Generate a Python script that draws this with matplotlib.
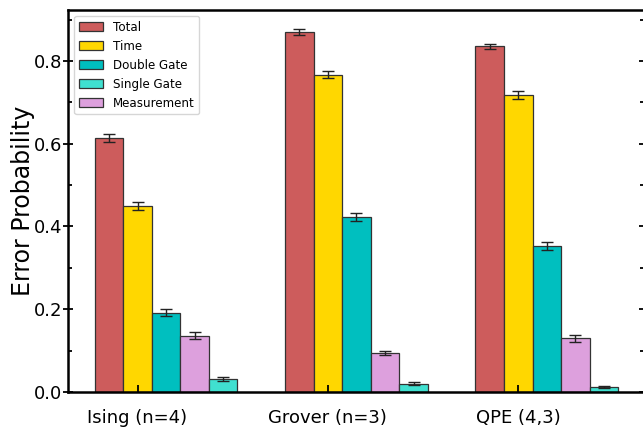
import matplotlib
matplotlib.use('Agg')

import matplotlib.pyplot as plt
from matplotlib.ticker import MultipleLocator
import numpy as np

groups = ["Ising (n=4)", "Grover (n=3)", "QPE (4,3)"]

# values per group, bar order as drawn
total = [0.613, 0.870, 0.835]
total_err = [0.010, 0.007, 0.006]
time_ = [0.450, 0.767, 0.717]
time_err = [0.010, 0.009, 0.010]
double_gate = [0.192, 0.422, 0.353]
double_gate_err = [0.008, 0.010, 0.010]
measurement = [0.136, 0.094, 0.130]
measurement_err = [0.008, 0.005, 0.008]
single_gate = [0.031, 0.020, 0.012]
single_gate_err = [0.005, 0.003, 0.002]

series = [
    ("Total", total, total_err, "indianred"),
    ("Time", time_, time_err, "gold"),
    ("Double Gate", double_gate, double_gate_err, "c"),
    ("Measurement", measurement, measurement_err, "plum"),
    ("Single Gate", single_gate, single_gate_err, "turquoise"),
]
legend_order = ["Total", "Time", "Double Gate", "Single Gate", "Measurement"]

fig = plt.figure(figsize=(6.43, 4.28), dpi=100)
ax = fig.add_axes([0.1065, 0.0841, 0.8958, 0.8925])

x = np.arange(len(groups))
width = 0.15
handles = {}
for i, (name, vals, errs, col) in enumerate(series):
    b = ax.bar(x + i * width, vals, width, yerr=errs, label=name, color=col,
               edgecolor="#333333", linewidth=0.9,
               error_kw=dict(ecolor="#222222", elinewidth=1, capsize=4, capthick=1))
    handles[name] = b

ax.set_xticks(x + width)
ax.set_xticklabels(groups, fontsize=13)
ax.set_ylim(0, 0.923)
ax.yaxis.set_major_locator(MultipleLocator(0.2))
ax.yaxis.set_minor_locator(MultipleLocator(0.1))
ax.tick_params(axis='y', labelsize=13, pad=1)
ax.tick_params(axis='y', which='major', direction='inout', length=7, width=1.3, right=True)
ax.tick_params(axis='y', which='minor', direction='in', length=3, width=1.3, right=True)
ax.tick_params(axis='x', which='major', direction='in', length=5, width=1.3, pad=12)
ax.set_ylabel("Error Probability", fontsize=17, labelpad=-1)

for s in ax.spines.values():
    s.set_linewidth(1.8)

ax.legend([handles[n] for n in legend_order], legend_order, loc="upper left", fontsize=8.6)

fig.savefig("out.png", dpi=100)
